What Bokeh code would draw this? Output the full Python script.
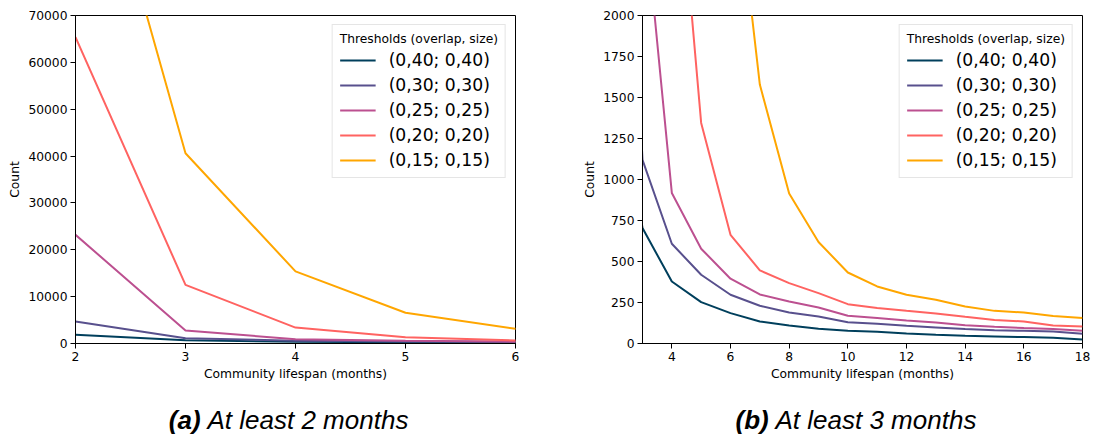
from bokeh.plotting import figure
from bokeh.layouts import row, column
from bokeh.models import Range1d, FixedTicker, BasicTickFormatter
from bokeh.core.properties import value
from bokeh.embed import file_html
from bokeh.resources import INLINE

# Number of communities by lifespan (months) for each threshold pair
lifespan = [2, 3, 4, 5, 6, 7, 8, 9, 10, 11, 12, 13, 14, 15, 16, 17, 18]
count_040 = [1850, 704, 378, 252, 185, 134, 110, 90, 77, 71, 61, 53, 47, 43, 39, 35, 24]
count_030 = [4700, 1120, 608, 419, 297, 230, 189, 165, 130, 120, 108, 98, 88, 81, 77, 73, 59]
count_025 = [23200, 2760, 918, 578, 395, 299, 256, 220, 169, 155, 140, 128, 112, 102, 94, 88, 77]
count_020 = [65400, 12500, 3400, 1345, 663, 446, 368, 307, 240, 216, 199, 183, 163, 144, 134, 110, 104]
count_015 = [124000, 40600, 15400, 6550, 3137, 1579, 914, 619, 433, 348, 297, 267, 226, 199, 189, 167, 155]

series_labels = ["(0,40; 0,40)", "(0,30; 0,30)", "(0,25; 0,25)", "(0,20; 0,20)", "(0,15; 0,15)"]
series_values = [count_040, count_030, count_025, count_020, count_015]
series_colors = ["#003f5c", "#58508d", "#bc5090", "#ff6361", "#ffa600"]

xticks_a = [2, 3, 4, 5, 6]
yticks_a = [0, 10000, 20000, 30000, 40000, 50000, 60000, 70000]
xticks_b = [4, 6, 8, 10, 12, 14, 16, 18]
yticks_b = [0, 250, 500, 750, 1000, 1250, 1500, 1750, 2000]

caption_tags = ["(a)", "(b)"]
caption_texts = ["At least 2 months", "At least 3 months"]

SMALL = "12.3px"
FONT = "DejaVu Sans"


def panel(width, border_left, border_right, xr, yr, xticks, yticks):
    p = figure(width=width, height=385, output_backend="svg", toolbar_location=None,
               x_range=Range1d(*xr), y_range=Range1d(*yr),
               min_border_left=border_left, min_border_right=border_right,
               min_border_top=15, min_border_bottom=42)
    p.grid.visible = False
    p.outline_line_color = "black"
    p.outline_line_width = 1
    p.outline_line_alpha = 1

    for lab, vals, col in zip(series_labels, series_values, series_colors):
        p.line(lifespan, vals, line_color=col, line_width=2, legend_label=lab)

    p.xaxis.ticker = FixedTicker(ticks=xticks)
    p.yaxis.ticker = FixedTicker(ticks=yticks)
    p.yaxis.formatter = BasicTickFormatter(use_scientific=False)
    p.xaxis.axis_label = "Community lifespan (months)"
    p.yaxis.axis_label = "Count"
    for ax in (p.xaxis, p.yaxis):
        ax.axis_line_color = "black"
        ax.major_tick_line_color = "black"
        ax.minor_tick_line_color = None
        ax.major_tick_out = 5
        ax.major_tick_in = 0
        ax.major_label_standoff = 3
        ax.axis_label_standoff = 3
        ax.major_label_text_font = FONT
        ax.major_label_text_font_size = SMALL
        ax.major_label_text_color = "black"
        ax.axis_label_text_font = FONT
        ax.axis_label_text_font_size = SMALL
        ax.axis_label_text_font_style = "normal"
        ax.axis_label_text_color = "black"

    lg = p.legend[0]
    lg.title = "Thresholds (overlap, size)"
    lg.title_text_font = FONT
    lg.title_text_font_size = SMALL
    lg.title_text_font_style = "normal"
    lg.title_text_color = "black"
    lg.title_standoff = 4
    lg.label_text_font = FONT
    lg.label_text_font_size = "17.2px"
    lg.label_text_color = "black"
    lg.location = "top_right"
    lg.margin = 9
    lg.padding = 7
    lg.spacing = 5
    lg.glyph_width = 36
    lg.glyph_height = 20
    lg.label_height = 20
    lg.label_standoff = 13
    lg.border_line_color = "#cccccc"
    lg.border_line_width = 1
    lg.background_fill_alpha = 0.8
    return p


p_a = panel(560, 75, 45, (2, 6), (0, 70000), xticks_a, yticks_a)
p_b = panel(533, 82, 11, (3, 18), (0, 2000), xticks_b, yticks_b)

# Sub-figure captions, laid out in a pixel-scaled strip under both panels
cap = figure(width=1093, height=52, output_backend="svg", toolbar_location=None,
             x_range=Range1d(0, 1093), y_range=Range1d(0, 52),
             x_axis_type=None, y_axis_type=None,
             min_border_left=0, min_border_right=0, min_border_top=0, min_border_bottom=0)
cap.grid.visible = False
cap.outline_line_color = None
cap.text(x=[168.3, 735], y=[17.5, 17.5], text=caption_tags,
         text_font=value("Liberation Sans"), text_font_size="26px",
         text_font_style="bold italic", text_color="black", text_baseline="alphabetic")
cap.text(x=[207, 775], y=[17.5, 17.5], text=caption_texts,
         text_font=value("Liberation Sans"), text_font_size="26px",
         text_font_style="italic", text_color="black", text_baseline="alphabetic")

page = column(row(p_a, p_b), cap)
open("out.html", "w").write(file_html(page, INLINE))
